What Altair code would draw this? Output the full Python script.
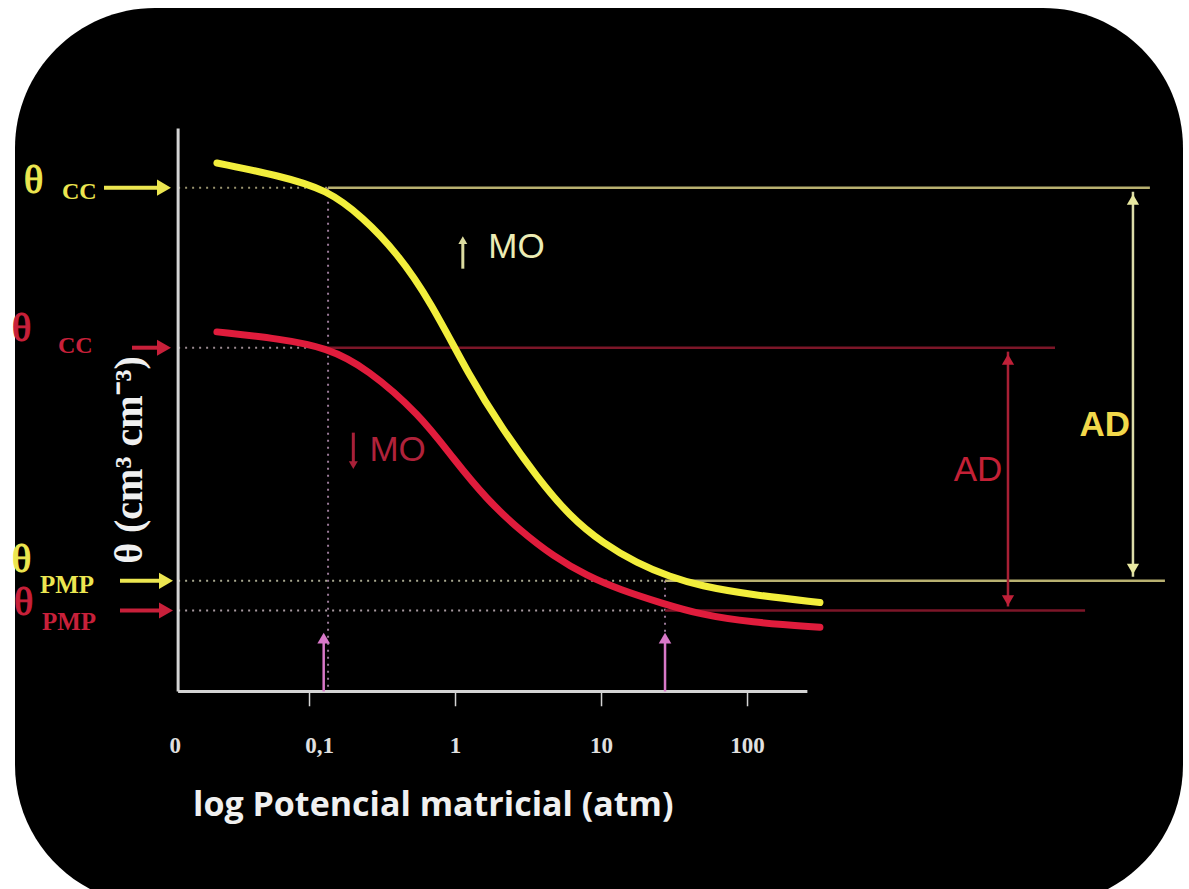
import altair as alt
import pandas as pd

# ---- curve data: log10 of matric potential (atm) vs volumetric water content ----
log_psi_alto = [-1.634, -1.202, -0.880, -0.634, -0.401, -0.175, 0.099, 0.325, 0.558,
                0.784, 1.010, 1.243, 1.469, 1.675, 2.017, 2.496]
theta_alto = [0.535, 0.522, 0.508, 0.480, 0.444, 0.396, 0.318, 0.265, 0.217,
              0.177, 0.150, 0.130, 0.116, 0.107, 0.098, 0.090]
log_psi_bajo = [-1.634, -1.202, -0.880, -0.606, -0.243, -0.017, 0.216, 0.442, 0.668,
                0.901, 1.127, 1.421, 1.675, 2.017, 2.496]
theta_bajo = [0.364, 0.357, 0.348, 0.327, 0.280, 0.236, 0.194, 0.163, 0.137,
              0.117, 0.103, 0.089, 0.078, 0.070, 0.065]

# reference levels
theta_cc_alto, theta_cc_bajo = 0.510, 0.348
theta_pmp_alto, theta_pmp_bajo = 0.112, 0.082
log_psi_cc, log_psi_pmp = -0.873, 1.435

# axis
tick_labels = ["0", "0,1", "1", "10", "100"]
tick_label_pos = [-1.92, -0.93, 0.0, 1.0, 2.0]
tick_pos = [-1.0, 0.0, 1.0, 2.0]
x_axis_start, x_axis_end, y_axis_top = -1.90, 2.41, 0.570

# right-hand annotation extents
line_end_cc_alto, line_end_cc_bajo = 4.756, 4.106
line_end_pmp_alto, line_end_pmp_bajo = 4.859, 4.312
ad_alto_x, ad_bajo_x = 4.64, 3.784

W, H = 1189, 889
XS = alt.Scale(domain=[-3.12, -3.12 + W / 146.0], nice=False, zero=False)
YS = alt.Scale(domain=[-0.2, 0.7], nice=False, zero=False)

YEL = "#f2ee3c"
RED = "#e01c3c"
YEL_DIM = "#b8b070"
RED_DIM = "#7c1628"
PINK = "#d878c8"
AXC = "#d4d4d4"


def X(f="x"):
    return alt.X(f"{f}:Q", scale=XS, axis=None)


def Y(f="y"):
    return alt.Y(f"{f}:Q", scale=YS, axis=None)


one = pd.DataFrame({"a": [0]})

frame = alt.Chart(one).mark_rect(color="black", cornerRadius=140).encode(
    x=alt.value(15), x2=alt.value(1183), y=alt.value(8), y2=alt.value(905))

# axes
axes_df = pd.DataFrame({
    "x": [x_axis_start, x_axis_start], "x2": [x_axis_end, x_axis_start],
    "y": [0.0, 0.0], "y2": [0.0, y_axis_top]})
axes = alt.Chart(axes_df).mark_rule(color=AXC, strokeWidth=3).encode(
    x=X(), x2="x2:Q", y=Y(), y2="y2:Q")
ticks = alt.Chart(pd.DataFrame({"x": tick_pos, "y": [0.0] * 4, "y2": [-0.015] * 4})).mark_rule(
    color=AXC, strokeWidth=1.5).encode(x=X(), y=Y(), y2="y2:Q")
tick_text = alt.Chart(pd.DataFrame({"x": tick_label_pos, "t": tick_labels, "y": [-0.055] * 5})).mark_text(
    font="Liberation Serif", fontSize=23, fontWeight="bold", color="#e0e0e0", baseline="middle").encode(
    x=X(), y=Y(), text="t:N")

xtitle = alt.Chart(one).mark_text(
    text="log Potencial matricial (atm)", font="Open Sans", fontWeight="bold", fontSize=34,
    color="#f0f0f0", align="left", baseline="middle").encode(x=alt.value(193), y=alt.value(806))
ytitle = alt.Chart(one).mark_text(
    text="θ (cm³ cm⁻³)", font="Liberation Serif", fontWeight="bold", fontSize=40,
    color="#f0f0f0", angle=270, baseline="middle").encode(x=alt.value(130), y=alt.value(460))

# dotted guide lines
dots_df = pd.DataFrame({
    "x": [x_axis_start, x_axis_start, x_axis_start, x_axis_start, log_psi_cc, log_psi_pmp],
    "x2": [log_psi_cc, log_psi_cc, log_psi_pmp, log_psi_pmp, log_psi_cc, log_psi_pmp],
    "y": [theta_cc_alto, theta_cc_bajo, theta_pmp_alto, theta_pmp_bajo, theta_cc_alto, theta_pmp_alto],
    "y2": [theta_cc_alto, theta_cc_bajo, theta_pmp_alto, theta_pmp_bajo, 0.0, 0.0],
    "c": ["#9a9470", "#9a8a90", "#a8a890", "#a89aa0", "#9a7a98", "#9a7a98"]})
dots = alt.Chart(dots_df).mark_rule(strokeWidth=2, strokeDash=[2, 5]).encode(
    x=X(), x2="x2:Q", y=Y(), y2="y2:Q", color=alt.Color("c:N", scale=None))

# solid horizontal reference lines
hl_df = pd.DataFrame({
    "x": [log_psi_cc, log_psi_cc, log_psi_pmp, log_psi_pmp],
    "x2": [line_end_cc_alto, line_end_cc_bajo, line_end_pmp_alto, line_end_pmp_bajo],
    "y": [theta_cc_alto, theta_cc_bajo, theta_pmp_alto, theta_pmp_bajo],
    "c": [YEL_DIM, RED_DIM, YEL_DIM, RED_DIM]})
hlines = alt.Chart(hl_df).mark_rule(strokeWidth=2.5).encode(
    x=X(), x2="x2:Q", y=Y(), color=alt.Color("c:N", scale=None))

# AD double arrows
ad_df = pd.DataFrame({
    "x": [ad_alto_x, ad_bajo_x],
    "y": [theta_cc_alto - 0.004, theta_cc_bajo - 0.004],
    "y2": [theta_pmp_alto + 0.004, theta_pmp_bajo + 0.004],
    "c": ["#dcdca8", "#a82035"]})
ad_lines = alt.Chart(ad_df).mark_rule(strokeWidth=2.5).encode(
    x=X(), y=Y(), y2="y2:Q", color=alt.Color("c:N", scale=None))
heads_up_df = pd.DataFrame({"x": [ad_alto_x, ad_bajo_x],
                            "y": [theta_cc_alto - 0.012, theta_cc_bajo - 0.012],
                            "c": ["#e8e8a0", "#c02038"]})
heads_dn_df = pd.DataFrame({"x": [ad_alto_x, ad_bajo_x],
                            "y": [theta_pmp_alto + 0.012, theta_pmp_bajo + 0.010],
                            "c": ["#e8e8a0", "#c02038"]})
heads_up = alt.Chart(heads_up_df).mark_point(shape="triangle-up", filled=True, size=150, opacity=1).encode(
    x=X(), y=Y(), color=alt.Color("c:N", scale=None))
heads_dn = alt.Chart(heads_dn_df).mark_point(shape="triangle-down", filled=True, size=150, opacity=1).encode(
    x=X(), y=Y(), color=alt.Color("c:N", scale=None))

# pink arrows from the x axis
pink_df = pd.DataFrame({"x": [log_psi_cc - 0.03, log_psi_pmp], "y": [0.0, 0.0], "y2": [0.050, 0.050]})
pink_shaft = alt.Chart(pink_df).mark_rule(color=PINK, strokeWidth=2.5).encode(x=X(), y=Y(), y2="y2:Q")
pink_head = alt.Chart(pd.DataFrame({"x": [log_psi_cc - 0.03, log_psi_pmp], "y": [0.054, 0.054]})).mark_point(
    shape="triangle-up", filled=True, size=160, color=PINK, opacity=1).encode(x=X(), y=Y())

# curves
curves_df = pd.concat([
    pd.DataFrame({"x": log_psi_alto, "y": theta_alto, "s": "alto"}),
    pd.DataFrame({"x": log_psi_bajo, "y": theta_bajo, "s": "bajo"})])
curves = alt.Chart(curves_df).mark_line(strokeWidth=7, interpolate="basis", strokeCap="round").encode(
    x=X(), y=Y(), color=alt.Color("s:N", scale=alt.Scale(domain=["alto", "bajo"], range=[YEL, RED]), legend=None),
    detail="s:N")

# MO arrows (up = more organic matter, down = less)
mo_arrow_df = pd.DataFrame({
    "x": [0.05, -0.70], "y": [0.428, 0.262], "y2": [0.455, 0.232],
    "hy": [0.457, 0.229], "shape": ["triangle-up", "triangle-down"],
    "c": ["#dcdca0", "#a82038"]})
mo_shafts = alt.Chart(mo_arrow_df).mark_rule(strokeWidth=3).encode(
    x=X(), y=Y(), y2="y2:Q", color=alt.Color("c:N", scale=None))
mo_heads = alt.Chart(mo_arrow_df).mark_point(filled=True, size=80, opacity=1).encode(
    x=X(), y=Y("hy"), shape=alt.Shape("shape:N", scale=None), color=alt.Color("c:N", scale=None))

# labels inside plot
lab_df = pd.DataFrame({
    "x": [0.225, -0.59, 4.62, 3.579],
    "y": [0.450, 0.244, 0.270, 0.224],
    "t": ["MO", "MO", "AD", "AD"],
    "c": ["#ececb4", "#b0223a", "#f2d84a", "#c42036"],
    "w": ["normal", "normal", "bold", "normal"],
    "a": ["left", "left", "right", "center"]})
labels = []
for i in range(len(lab_df)):
    r = lab_df.iloc[i]
    labels.append(alt.Chart(lab_df.iloc[[i]]).mark_text(
        font="Liberation Sans", fontSize=35, fontWeight=r.w, align=r.a, baseline="middle", color=r.c).encode(
        x=X(), y=Y(), text="t:N"))

# left-hand theta labels with arrows
left = []
specs = [
    # level, subscript, colour, arrow start, arrow end, theta x, theta up, sub x, sub down, sub size
    (theta_cc_alto, "CC", "#ece650", 104, 158, 24, 0.007, 62, -0.004, 24),
    (theta_cc_bajo, "CC", "#c8203a", 132, 158, 12, 0.019, 58, 0.002, 24),
    (theta_pmp_alto, "PMP", "#ece650", 120, 160, 12, 0.021, 40, -0.004, 25),
    (theta_pmp_bajo, "PMP", "#c8203a", 120, 160, 14, 0.008, 42, -0.012, 25),
]
for th, sub, col, ax0, ax1, tx, up, sx, down, ss in specs:
    d = pd.DataFrame({"y": [th], "yt": [th + up], "ys": [th + down]})
    left.append(alt.Chart(d).mark_rule(color=col, strokeWidth=4).encode(
        x=alt.value(ax0), x2=alt.value(ax1), y=Y()))
    left.append(alt.Chart(d).mark_point(shape="triangle-right", filled=True, size=260, color=col, opacity=1).encode(
        x=alt.value(ax1 + 6), y=Y()))
    left.append(alt.Chart(d).mark_text(text="θ", font="Liberation Serif", fontSize=40,
                                       stroke=col, strokeWidth=1.2,
                                       color=col, align="left", baseline="middle").encode(
        x=alt.value(tx), y=Y("yt")))
    left.append(alt.Chart(d).mark_text(text=sub, font="Liberation Serif", fontSize=ss,
                                       fontWeight="bold", color=col, align="left", baseline="middle").encode(
        x=alt.value(sx), y=Y("ys")))

chart = alt.layer(
    frame, dots, hlines, ad_lines, heads_up, heads_dn, axes, ticks, tick_text,
    pink_shaft, pink_head, curves, mo_shafts, mo_heads, *labels, *left, xtitle, ytitle
).properties(
    width=W, height=H, background="white", padding=0,
    autosize=alt.AutoSizeParams(type="none")
).configure_view(stroke=None)

chart.save("out.html", embed_options={"renderer": "svg", "actions": False})
